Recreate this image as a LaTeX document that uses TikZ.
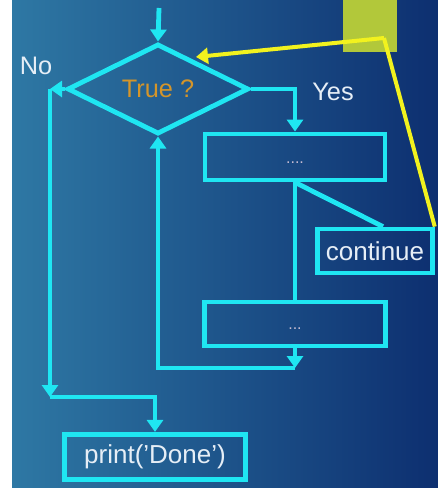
\documentclass[tikz,border=0pt]{standalone}
\usepackage{fontspec}
\setmainfont{Liberation Sans}[Ligatures=ResetAll]
\usetikzlibrary{arrows.meta,shapes.geometric}
\definecolor{flow}{HTML}{1FE6F2}
\definecolor{jump}{HTML}{F2F21E}
\definecolor{jumpbox}{HTML}{B2C83A}
\definecolor{cond}{HTML}{D4952A}
\definecolor{lbltxt}{HTML}{E6EEF6}
\definecolor{dots}{HTML}{C6BCD2}
\definecolor{bgleft}{HTML}{2E78A4}
\definecolor{bgright}{HTML}{0D2F70}

\begin{document}
\begin{tikzpicture}[x=0.75pt,y=-0.75pt,>={Triangle[length=9pt,width=12pt]}]
 \tikzstyle{stepbox}=[rectangle,draw=flow,line width=3.6pt,inner sep=0pt,font=\fontsize{19.5}{22}\selectfont,text=lbltxt]
 \tikzstyle{testnode}=[diamond,draw=flow,line width=3.6pt,inner sep=0pt,minimum width=136pt,minimum height=57pt,font=\fontsize{19}{22}\selectfont,text=cond]
 \tikzstyle{flowline}=[flow,line width=3.6pt]
 \tikzstyle{jumpline}=[jump,line width=3pt]
 \tikzstyle{lbl}=[font=\fontsize{19}{22}\selectfont,text=lbltxt]
 \useasboundingbox (0,0) rectangle (438,490);
 \fill[white] (0,0) rectangle (438,490);
 \shade[left color=bgleft,right color=bgright] (12,0) rectangle (438,487);
 % nodes
 \node[testnode] (test) at (158,89) {True ?};
 \node[stepbox,minimum width=135pt,minimum height=34.5pt] (body1) at (295,157) {};
 \node[font=\fontsize{12}{14}\selectfont,text=dots] at (295,163) {....};
 \node[stepbox,minimum width=136pt,minimum height=33pt] (body2) at (295,324) {};
 \node[font=\fontsize{12}{14}\selectfont,text=dots] at (295,329) {...};
 \node[stepbox,minimum width=86pt,minimum height=33pt] (cont) at (375,251) {continue};
 \node[stepbox,minimum width=136pt,minimum height=34pt] (done) at (155,457) {print('Done')};
 \node[rectangle,fill=jumpbox,minimum width=41pt,minimum height=41pt,inner sep=0pt] (jumpsq) at (370,25) {};
 \node[lbl] (no) at (36,66) {No};
 \node[lbl] (yes) at (333,92) {Yes};
 \coordinate (start) at (159,8);
 \coordinate (nocorner) at (50,89);
 \coordinate (nobottom) at (50,397);
 \coordinate (loop) at (295,368);
 \coordinate (jumpknee) at (384,38);
 \coordinate (jumptip) at (196,57);
 % flow
 \draw[->,flowline] (start) -- (test.north);
 \draw[->,flowline] (test.east) -| (body1.north);
 \draw[->,flowline] (test.west) -- (nocorner);
 \draw[->,flowline] (nocorner) -- (nobottom);
 \draw[->,flowline] (nobottom) -| (done.north);
 \draw[flowline] (body1.south) -- (body2.north);
 \draw[flowline] (body1.south) -- ([xshift=6pt]cont.north);
 \draw[->,flowline] (body2.south) -- (loop);
 \draw[->,flowline] (loop) -| (test.south);
 % continue jumps back
 \draw[jumpline] (cont.north east) -- (jumpknee);
 \draw[->,jumpline] (jumpknee) -- (jumptip);
\end{tikzpicture}
\end{document}
